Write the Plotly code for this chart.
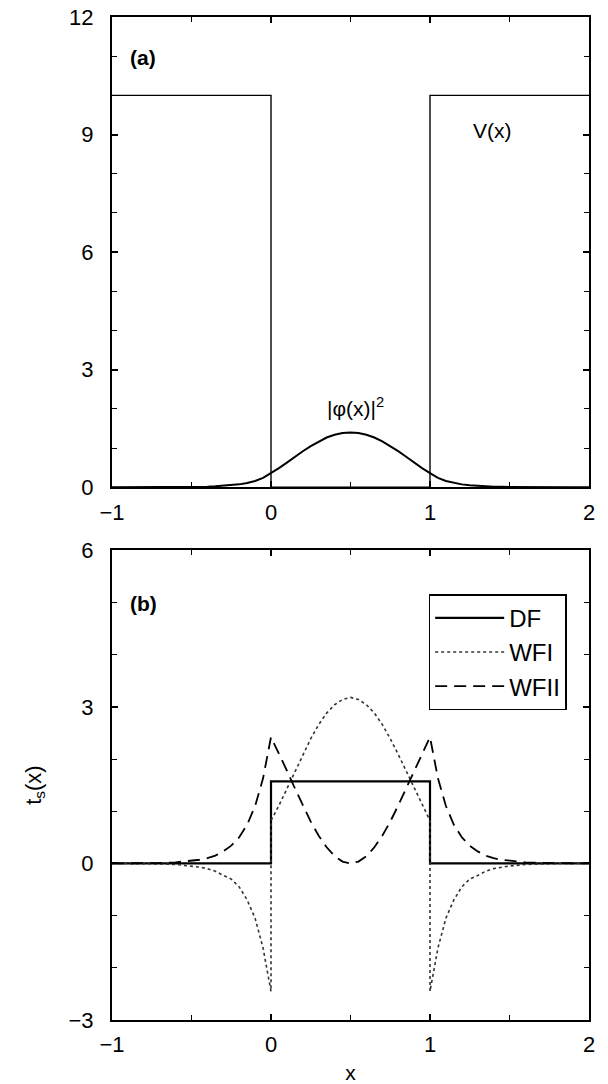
import plotly.graph_objects as go

# ---------------- data ----------------
# panel (a)
v_x = [-1.0, 0.0, 0.0, 1.0, 1.0, 2.0]
v_y = [10, 10, 0, 0, 10, 10]

x_grid = [-1.0, -0.9, -0.8, -0.7, -0.6, -0.5, -0.45, -0.4, -0.35, -0.3, -0.25, -0.2,
          -0.15, -0.1, -0.05, 0.0, 0.05, 0.1, 0.15, 0.2, 0.25, 0.3, 0.35, 0.4, 0.45,
          0.5, 0.55, 0.6, 0.65, 0.7, 0.75, 0.8, 0.85, 0.9, 0.95, 1.0, 1.05, 1.1, 1.15,
          1.2, 1.25, 1.3, 1.35, 1.4, 1.45, 1.5, 1.6, 1.7, 1.8, 1.9, 2.0]

rho = [0, 0, 0, 0.001, 0.003, 0.007, 0.010, 0.015, 0.023, 0.034, 0.05, 0.074, 0.11, 0.16, 0.24, 0.36,
       0.49, 0.63, 0.78, 0.92, 1.05, 1.17, 1.27, 1.34, 1.385, 1.40,
       1.385, 1.34, 1.27, 1.17, 1.05, 0.92, 0.78, 0.63, 0.49, 0.36,
       0.24, 0.16, 0.11, 0.074, 0.05, 0.034, 0.023, 0.015, 0.010,
       0.007, 0.003, 0.001, 0, 0, 0]

# panel (b)
df_x = [-1.0, 0.0, 0.0, 1.0, 1.0, 2.0]
df_y = [0, 0, 1.57, 1.57, 0, 0]

wfii = [0, 0, 0.003, 0.009, 0.021, 0.05, 0.07, 0.10, 0.15, 0.23, 0.34, 0.50, 0.74, 1.10, 1.63, 2.42,
        2.11, 1.78, 1.44, 1.11, 0.80, 0.53, 0.31, 0.14, 0.035, 0,
        0.035, 0.14, 0.31, 0.53, 0.80, 1.11, 1.44, 1.78, 2.11, 2.42,
        1.63, 1.10, 0.74, 0.50, 0.34, 0.23, 0.15, 0.10, 0.07,
        0.05, 0.021, 0.009, 0.003, 0, 0]

wfi_x = [-1.0, -0.9, -0.8, -0.7, -0.6, -0.5, -0.45, -0.4, -0.35, -0.3, -0.25, -0.2,
         -0.15, -0.1, -0.05, 0.0, 0.0, 0.05, 0.1, 0.15, 0.2, 0.25, 0.3, 0.35, 0.4, 0.45,
         0.5, 0.55, 0.6, 0.65, 0.7, 0.75, 0.8, 0.85, 0.9, 0.95, 1.0, 1.0, 1.05, 1.1, 1.15,
         1.2, 1.25, 1.3, 1.35, 1.4, 1.45, 1.5, 1.6, 1.7, 1.8, 1.9, 2.0]
wfi = [0, 0, -0.003, -0.009, -0.021, -0.05, -0.07, -0.10, -0.15, -0.23, -0.30, -0.45, -0.70, -1.05, -1.62, -2.45,
       0.82, 1.11, 1.43, 1.77, 2.09, 2.39, 2.66, 2.88, 3.04, 3.14, 3.18,
       3.14, 3.04, 2.88, 2.66, 2.39, 2.09, 1.77, 1.43, 1.11, 0.82, -2.45,
       -1.62, -1.05, -0.70, -0.45, -0.30, -0.23, -0.15, -0.10, -0.07,
       -0.05, -0.021, -0.009, -0.003, 0, 0]

x_ticks = [-1, 0, 1, 2]
ya_ticks = [0, 3, 6, 9, 12]
yb_ticks = [-3, 0, 3, 6]

# ---------------- figure ----------------
FONT = "Liberation Sans, Arial, sans-serif"
W, H = 608, 1084
L_PX, R_PX, T_PX, B_PX = 112, 589.5, 16.5, 1020  # plot area in page pixels
fig = go.Figure()

fig.add_trace(go.Scatter(x=v_x, y=v_y, mode="lines", line=dict(color="black", width=1.4),
                         showlegend=False, xaxis="x", yaxis="y"))
fig.add_trace(go.Scatter(x=x_grid, y=rho, mode="lines", line=dict(color="black", width=2),
                         showlegend=False, xaxis="x", yaxis="y"))

fig.add_trace(go.Scatter(x=df_x, y=df_y, mode="lines", name="DF",
                         line=dict(color="black", width=2.2), xaxis="x2", yaxis="y2"))
fig.add_trace(go.Scatter(x=wfi_x, y=wfi, mode="lines", name="WFI",
                         line=dict(color="#333333", width=1.6, dash="dot"), xaxis="x2", yaxis="y2"))
fig.add_trace(go.Scatter(x=x_grid, y=wfii, mode="lines", name="WFII",
                         line=dict(color="black", width=1.8, dash="12px,7px"), xaxis="x2", yaxis="y2"))

axis_common = dict(showline=True, linecolor="black", linewidth=2, mirror="ticks",
                   ticks="inside", ticklen=6, tickwidth=1.5, tickcolor="black",
                   showgrid=False, zeroline=False, automargin=False,
                   tickfont=dict(family=FONT, size=22, color="black"))

x_common = dict(axis_common, range=[-1, 2], tickvals=x_ticks,
                minor=dict(dtick=0.5, ticks="inside", ticklen=5, tickwidth=1.2, tickcolor="black"),
                ticklabelstandoff=4)

ml = L_PX
mt = T_PX
mb = H - B_PX
mr = W - R_PX
plot_h = B_PX - T_PX
top_lo = (B_PX - 487) / plot_h
bot_hi = (B_PX - 550) / plot_h

fig.update_layout(
    width=W, height=H,
    margin=dict(l=ml, r=mr, t=mt, b=mb, autoexpand=False),
    paper_bgcolor="white", plot_bgcolor="white",
    font=dict(family=FONT, color="black"),
    xaxis=dict(x_common, anchor="y"),
    yaxis=dict(axis_common, domain=[top_lo, 1], range=[0, 12], tickvals=ya_ticks,
               minor=dict(dtick=1, ticks="inside", ticklen=5, tickwidth=1.2, tickcolor="black"),
               ticklabelstandoff=12, anchor="x"),
    xaxis2=dict(x_common, anchor="y2",
                title=dict(text="x", font=dict(family=FONT, size=21, color="black"), standoff=18)),
    yaxis2=dict(axis_common, domain=[0, bot_hi], range=[-3, 6], tickvals=yb_ticks,
                minor=dict(dtick=1, ticks="inside", ticklen=5, tickwidth=1.2, tickcolor="black"),
                ticklabelstandoff=12, anchor="x2",
                title=dict(text="t<sub>s</sub>(x)", font=dict(family=FONT, size=22, color="black"),
                           standoff=21)),
    legend=dict(x=(429 - L_PX) / (R_PX - L_PX), y=(B_PX - 594) / plot_h,
                xanchor="left", yanchor="top", itemwidth=69,
                bordercolor="black", borderwidth=1.5, bgcolor="white",
                font=dict(family=FONT, size=24, color="black"), tracegroupgap=0),
    annotations=[
        dict(text="<b>(a)</b>", x=-0.9, y=10.97, xref="x", yref="y", xanchor="left",
             yanchor="middle", showarrow=False, font=dict(family=FONT, size=21)),
        dict(text="V(x)", x=1.39, y=9.1, xref="x", yref="y", showarrow=False,
             font=dict(family=FONT, size=21)),
        dict(text="|φ(x)|<sup>2</sup>", x=0.53, y=2.05, xref="x", yref="y", showarrow=False,
             font=dict(family=FONT, size=21)),
        dict(text="<b>(b)</b>", x=-0.9, y=4.98, xref="x2", yref="y2", xanchor="left",
             yanchor="middle", showarrow=False, font=dict(family=FONT, size=21)),
    ],
)

# remove the default page margin so the figure sits at the window's top-left corner
fig.write_html("out.html", config={"displayModeBar": False},
               post_script="document.body.style.margin='0';document.body.style.overflow='hidden';")
